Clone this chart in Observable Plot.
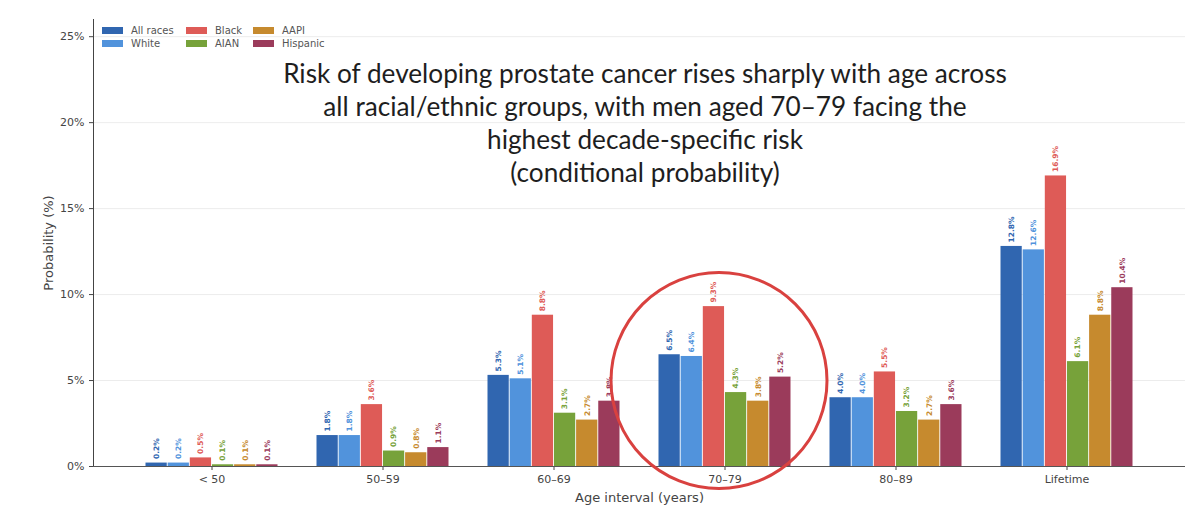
<!DOCTYPE html>
<html><head><meta charset="utf-8">
<script src="https://cdn.jsdelivr.net/npm/d3@7"></script>
<script src="https://cdn.jsdelivr.net/npm/@observablehq/plot@0.6"></script>
<style>
body{margin:0;background:#fff;}
#wrap{position:relative;width:1200px;height:511px;font-family:"DejaVu Sans",sans-serif;}
#title{position:absolute;left:195px;width:900px;top:57px;text-align:center;font-family:Lato,sans-serif;font-size:26.2px;line-height:33px;color:#1e1e1e;}
#legend{position:absolute;left:102px;top:24px;display:grid;grid-template-columns:84px 67px 90px;grid-template-rows:13px 13px;grid-auto-flow:column;font-size:10px;color:#555;}
#legend .it{display:flex;align-items:center;white-space:nowrap;}
#legend .sw{width:21px;height:7px;margin-right:8px;}
</style></head>
<body><div id="wrap"><div id="chart"></div><div id="legend"></div><div id="title"></div></div>
<script>
const ages = ["< 50", "50–59", "60–69", "70–79", "80–89", "Lifetime"];
const races = ["All races", "White", "Black", "AIAN", "AAPI", "Hispanic"];
const raceColors = ["#3066b0", "#5193dc", "#de5b57", "#77a23a", "#c68a2e", "#9b3b5b"];
const allRaces = [0.2, 1.8, 5.3, 6.5, 4.0, 12.8];
const white    = [0.2, 1.8, 5.1, 6.4, 4.0, 12.6];
const black    = [0.5, 3.6, 8.8, 9.3, 5.5, 16.9];
const aian     = [0.1, 0.9, 3.1, 4.3, 3.2, 6.1];
const aapi     = [0.1, 0.8, 2.7, 3.8, 2.7, 8.8];
const hispanic = [0.1, 1.1, 3.8, 5.2, 3.6, 10.4];
const yTicks = [0, 5, 10, 15, 20, 25];
const titleLines = [
  "Risk of developing prostate cancer rises sharply with age across",
  "all racial/ethnic groups, with men aged 70–79 facing the",
  "highest decade-specific risk",
  "(conditional probability)"
];
const highlight = [{age: "70–79", value: 5.0}];

const series = [allRaces, white, black, aian, aapi, hispanic];
const data = [];
races.forEach((r, i) => ages.forEach((a, j) => data.push({race: r, age: a, value: series[i][j]})));

const barW = 22.15;
const marks = [];
races.forEach((r, i) => {
  const rows = data.filter(d => d.race === r);
  marks.push(Plot.barY(rows, {x: "age", y: "value", fill: raceColors[i],
    insetLeft: i * barW + 0.5, insetRight: (5 - i) * barW + 0.5}));
  marks.push(Plot.text(rows, {x: "age", y: "value", text: d => d.value.toFixed(1) + "%",
    dx: (i - 2.5) * barW, dy: -4, rotate: -90, textAnchor: "start", lineAnchor: "middle",
    fill: raceColors[i], fontSize: 7.5, fontWeight: "bold"}));
});

const plot = Plot.plot({
  width: 1200, height: 511,
  marginTop: 19, marginRight: 15, marginBottom: 45, marginLeft: 93,
  style: {fontFamily: "DejaVu Sans, sans-serif", fontSize: "11px", color: "#444", background: "#fff"},
  x: {domain: ages, paddingInner: 0.225, paddingOuter: 0.1125, insetLeft: 31, insetRight: 31,
      label: "Age interval (years)", labelAnchor: "center", labelOffset: 35, labelArrow: "none", tickSize: 4},
  y: {domain: [0, 26], ticks: yTicks, tickFormat: d => d + "%", label: "Probability (%)",
      labelAnchor: "center", labelOffset: 50, labelArrow: "none", tickSize: 4, grid: true, line: true},
  marks: [
    ...marks,
    Plot.ruleY([0], {stroke: "#555"}),
    Plot.dot(highlight, {x: "age", y: "value", r: 108, dx: -6, stroke: "#d9413f", strokeWidth: 3, fill: "none"})
  ]
});
d3.select(plot).selectAll('g[aria-label="x-axis label"], g[aria-label="y-axis label"]').attr("font-size", 13);
document.getElementById("chart").appendChild(plot);

const leg = document.getElementById("legend");
races.forEach((r, i) => {
  const it = document.createElement("div"); it.className = "it";
  const sw = document.createElement("span"); sw.className = "sw"; sw.style.background = raceColors[i];
  const tx = document.createElement("span"); tx.textContent = r;
  it.appendChild(sw); it.appendChild(tx); leg.appendChild(it);
});
const t = document.getElementById("title");
titleLines.forEach(l => { const d = document.createElement("div"); d.textContent = l; t.appendChild(d); });
</script></body></html>
